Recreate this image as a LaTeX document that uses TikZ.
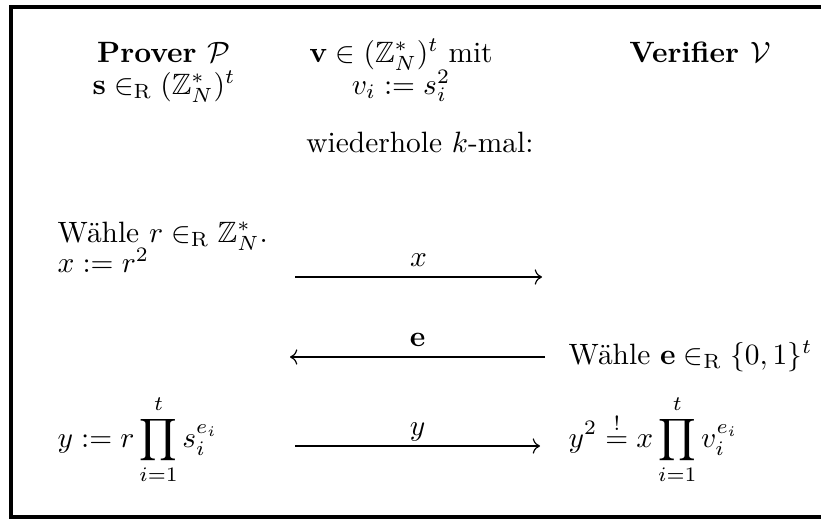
\documentclass[tikz,border=0pt]{standalone}
\usepackage{tikz}
\usetikzlibrary{arrows.meta,positioning}
\usepackage{amsmath,amssymb}

\begin{document}
\begin{tikzpicture}[x=0.34pt, y=-0.34pt,
    msg/.style={-{To}, thin},
    msglabel/.style={above, text depth=0pt},
    txt/.style={anchor=base, inner sep=0pt},
    lefttxt/.style={anchor=base west, inner sep=0pt}]
  \useasboundingbox (0,0) rectangle (821,519);
  \draw[line width=1.2pt] (821,7) -- (11,7) -- (11,517) -- (821,517);

  % head row
  \node[txt, font=\bfseries] (prover) at (164,62) {Prover $\mathcal{P}$};
  \node[txt] (skey) at (164,94) {$\mathbf{s} \in_{\mathrm{R}} (\mathbb{Z}_N^*)^t$};
  \node[txt] (vkey) at (401,62) {$\mathbf{v} \in (\mathbb{Z}_N^*)^t$ mit};
  \node[txt] (vdef) at (401,94) {$v_i := s_i^2$};
  \node[txt, font=\bfseries] (verifier) at (700,62) {Verifier $\mathcal{V}$};

  \node[txt] (repeat) at (420,152) {wiederhole $k$-mal:};

  % commitment
  \node[lefttxt] (chooser) at (57,242) {W\"ahle $r \in_{\mathrm{R}} \mathbb{Z}_N^*$.};
  \node[lefttxt] (commit) at (57,272) {$x := r^2$};
  \coordinate (x-from) at (295,277);
  \coordinate (x-to) at (542,277);
  \draw[msg] (x-from) -- node[msglabel] {$x$} (x-to);

  % challenge
  \node[lefttxt] (challenge) at (568,364) {W\"ahle $\mathbf{e} \in_{\mathrm{R}} \{0,1\}^t$};
  \coordinate (e-from) at (545,357);
  \coordinate (e-to) at (290,357);
  \draw[msg] (e-from) -- node[msglabel] {$\mathbf{e}$} (e-to);

  % response
  \node[lefttxt] (response) at (57,447) {$\displaystyle y := r \prod_{i=1}^t s_i^{e_i}$};
  \coordinate (y-from) at (295,446);
  \coordinate (y-to) at (540,446);
  \draw[msg] (y-from) -- node[msglabel] {$y$} (y-to);
  \node[lefttxt] (check) at (568,447) {$\displaystyle y^2 \stackrel{!}{=} x \prod_{i=1}^t v_i^{e_i}$};
\end{tikzpicture}
\end{document}
